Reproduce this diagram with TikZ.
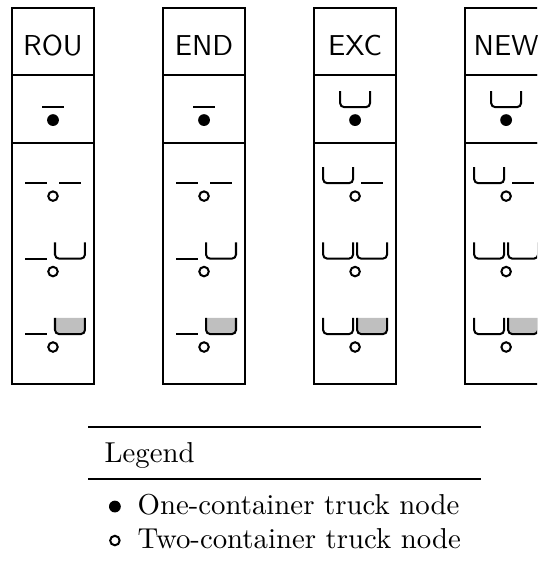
\documentclass[tikz,border=0pt]{standalone}
\usetikzlibrary{positioning}
\tikzset{
	cell/.style={
		draw=black,
		thick,
		rectangle,
		minimum width=28.4pt,
		inner sep=0pt,
		outer sep=0pt
	},
	head/.style={
		cell,
		minimum height=23.3pt,
		font=\sffamily,
		text height=9.3pt,
		text depth=0pt
	},
	onerow/.style={cell, minimum height=23.6pt},
	tworow/.style={cell, minimum height=83.7pt},
	onetruck/.style={circle, fill=black, inner sep=0pt, minimum size=4.1pt},
	twotruck/.style={circle, draw=black, line width=0.7pt, inner sep=0pt, minimum size=3.3pt},
	pics/bed/.style={code={
		\draw[line width=0.7pt] (-3.8pt,0pt) -- (3.8pt,0pt);
	}},
	pics/box/.style={code={
		\draw[line width=0.7pt, rounded corners=1.4pt] (-5.2pt,5.6pt) -- (-5.2pt,0pt) -- (5.2pt,0pt) -- (5.2pt,5.6pt);
	}},
	pics/loaded/.style={code={
		\filldraw[line width=0.7pt, fill=black!25, rounded corners=1.4pt] (-5.2pt,5.6pt) -- (-5.2pt,0pt) -- (5.2pt,0pt) -- (5.2pt,5.6pt);
	}},
}

\begin{document}
\begin{tikzpicture}
\clip (0pt,0pt) rectangle (186.5pt,-195.5pt);

% Columns
\foreach \name/\lab/\kind [count=\i from 0] in {rou/ROU/bed, end/END/bed, exc/EXC/box, new/NEW/box}{
	\node[head] (\name-head) at ({18.4pt+\i*52.45pt},-14.45pt) {\lab};
	\node[onerow, below=0pt of \name-head] (\name-one) {};
	\node[tworow, below=0pt of \name-one] (\name-two) {};

	% one-container truck
	\pic at ([yshift=-11.1pt]\name-one.north) {\kind};
	\node[onetruck] (\name-t) at ([yshift=-15.6pt]\name-one.north) {};

	% two-container trucks
	\foreach \load [count=\j from 0] in {bed, box, loaded}{
		\pic at ([xshift=-5.9pt, yshift={-13.9pt-\j*26.2pt}]\name-two.north) {\kind};
		\pic at ([xshift=5.9pt, yshift={-13.9pt-\j*26.2pt}]\name-two.north) {\load};
		\node[twotruck] (\name-t\j) at ([yshift={-18.4pt-\j*26.2pt}]\name-two.north) {};
	}
}

% Legend
\node[
	inner sep=0pt,
	anchor=north west,
	minimum width=136.1pt,
	minimum height=17.7pt,
	text width=125pt,
	text height=8.5pt,
	text depth=1.9pt,
	align=left
] (legend) at (30.6pt,-148.3pt) {Legend};
\draw[line width=0.8pt] (legend.north west) -- (legend.north east);
\draw[line width=0.5pt] (legend.south west) -- (legend.south east);

\node[anchor=base west, inner sep=0pt] (one-label) at (47.6pt,-178.5pt) {One-container truck node};
\node[anchor=base west, inner sep=0pt] (two-label) at (47.6pt,-190.3pt) {Two-container truck node};
\node[onetruck] (one-mark) at ([xshift=-7.7pt, yshift=2.6pt]one-label.base west) {};
\node[twotruck] (two-mark) at ([xshift=-7.7pt, yshift=2.6pt]two-label.base west) {};

\end{tikzpicture}
\end{document}
